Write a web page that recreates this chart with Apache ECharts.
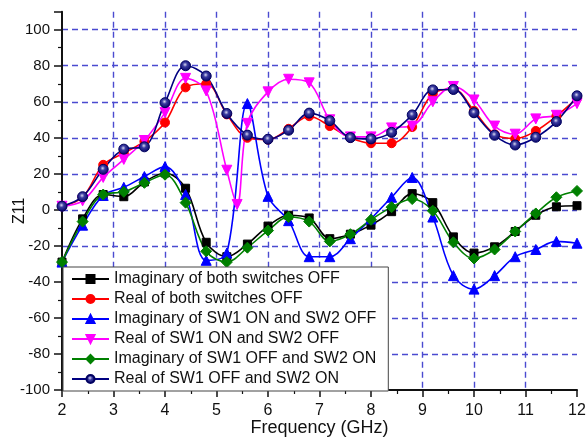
<!DOCTYPE html>
<html>
<head>
<meta charset="utf-8">
<script src="https://cdn.jsdelivr.net/npm/echarts@6/dist/echarts.min.js"></script>
<style>
  html, body { margin: 0; padding: 0; background: #fff; }
  #chart { width: 587px; height: 438px; }
</style>
</head>
<body>
<div id="chart"></div>
<script>
// Frequency sample points (GHz)
const freq = [2, 2.4, 2.8, 3.2, 3.6, 4.0, 4.4, 4.8, 5.2, 5.6, 6.0, 6.4, 6.8, 7.2, 7.6, 8.0, 8.4, 8.8, 9.2, 9.6, 10.0, 10.4, 10.8, 11.2, 11.6, 12];
// SW1 ON / SW2 OFF real part has one extra sample in the resonance dip
const freqSw1On = [2, 2.4, 2.8, 3.2, 3.6, 4.0, 4.4, 4.8, 5.2, 5.4, 5.6, 6.0, 6.4, 6.8, 7.2, 7.6, 8.0, 8.4, 8.8, 9.2, 9.6, 10.0, 10.4, 10.8, 11.2, 11.6, 12];

const imagBothOff = [-29, -5, 8.5, 7.3, 15.5, 20.5, 12, -18, -26, -19, -9, -3, -4.5, -16, -13.5, -8.5, -1, 9, 4, -15, -24, -20.5, -12, -3, 1.7, 2.3];
const realBothOff = [2, 7, 25, 31.5, 38, 48.5, 68, 70, 53, 40, 39, 45, 52, 46.5, 40, 37, 37, 46, 64.5, 67, 55, 42, 39.5, 43.8, 52, 62];
const imagSw1On = [-29, -8.5, 8, 12.5, 18.5, 24, 8.5, -28, -24, 59, 7.5, -6, -26, -26, -16, -5, 7, 18, -4, -36.5, -44, -36.5, -26, -22, -17.5, -18.5];
const realSw1On = [2, 5, 18, 28, 38.5, 54, 73, 66, 22, 3, 48, 65.5, 72.5, 70.5, 50, 40.5, 40.5, 45.5, 46.5, 60, 68.5, 61, 46.5, 42, 50.5, 52.5, 59];
const imagSw2On = [-29, -6.5, 8.5, 10, 15, 19.5, 4, -23, -29, -21, -11.5, -4, -6.5, -17.5, -13.5, -5.5, 1.5, 6, -0.5, -18, -27, -22, -12, -2, 7, 10.5];
const realSw2On = [2, 7.3, 22.5, 33.7, 35, 59.5, 80, 74.3, 53.5, 41.5, 39.2, 44.2, 53.7, 49.5, 40.1, 39.4, 43, 52.7, 66.6, 66.8, 53.9, 41.4, 36, 40.3, 49, 63.3];

const seriesNames = [
  'Imaginary of both switches OFF',
  'Real of both switches OFF',
  'Imaginary of SW1 ON and SW2 OFF',
  'Real of SW1 ON and SW2 OFF',
  'Imaginary of SW1 OFF and SW2 ON',
  'Real of SW1 OFF and SW2 ON'
];

const xTicks = [2, 3, 4, 5, 6, 7, 8, 9, 10, 11, 12];
const yTicks = [-100, -80, -60, -40, -20, 0, 20, 40, 60, 80, 100];

const pairs = (xs, ys) => xs.map((x, i) => [x, ys[i]]);

const gridBlue = '#4a4ad0';
const fontFam = '"Liberation Sans", Arial, sans-serif';

function lineSeries(name, xs, ys, color, symbol, size, extraItem) {
  return {
    name: name,
    type: 'line',
    data: pairs(xs, ys),
    smooth: 0.35,
    symbol: symbol,
    symbolSize: size,
    showAllSymbol: true,
    lineStyle: { color: color, width: 1.6 },
    itemStyle: Object.assign({ color: color, borderColor: color, borderWidth: 1 }, extraItem || {}),
    emphasis: { disabled: true },
    animation: false
  };
}

const navyBall = {
  color: {
    type: 'radial', x: 0.45, y: 0.4, r: 0.6,
    colorStops: [
      { offset: 0, color: '#d8d8f0' },
      { offset: 0.35, color: '#3a3aa0' },
      { offset: 1, color: '#000060' }
    ]
  },
  borderColor: '#000060',
  borderWidth: 1
};

const chart = echarts.init(document.getElementById('chart'), null, { renderer: 'canvas' });

chart.setOption({
  animation: false,
  backgroundColor: '#ffffff',
  grid: { left: 62, right: 10, top: 11.7, bottom: 48, containLabel: false, outerBoundsMode: 'none' },
  legend: {
    orient: 'vertical',
    left: 63,
    top: 267,
    width: 321,
    backgroundColor: '#ffffff',
    borderColor: '#444',
    borderWidth: 1,
    padding: [4, 12, 4, 8],
    itemWidth: 37,
    itemHeight: 10,
    itemGap: 4,
    selectedMode: false,
    data: seriesNames,
    textStyle: { fontFamily: fontFam, fontSize: 16, color: '#111', lineHeight: 16 }
  },
  xAxis: {
    type: 'value',
    min: xTicks[0],
    max: xTicks[xTicks.length - 1],
    interval: 1,
    name: 'Frequency (GHz)',
    nameLocation: 'middle',
    nameGap: 29,
    nameMoveOverlap: false,
    nameTextStyle: { fontFamily: fontFam, fontSize: 18, color: '#111' },
    axisLine: { show: true, onZero: false, lineStyle: { color: '#111', width: 2 } },
    axisTick: { show: true, inside: false, length: 7, lineStyle: { color: '#111', width: 1.5 } },
    minorTick: { show: true, splitNumber: 2, length: 4, lineStyle: { color: '#111', width: 1.2 } },
    axisLabel: { fontFamily: fontFam, fontSize: 16, color: '#111', margin: 13 },
    splitLine: {
      show: true, showMinLine: false, showMaxLine: false,
      lineStyle: { color: gridBlue, type: [6, 4], width: 1.4 }
    }
  },
  yAxis: {
    type: 'value',
    min: yTicks[0],
    max: 110,
    interval: 20,
    name: 'Z11',
    nameLocation: 'middle',
    nameGap: 34,
    nameMoveOverlap: false,
    nameTextStyle: { fontFamily: fontFam, fontSize: 16, color: '#111', padding: [0, 20, 0, 0] },
    axisLine: { show: true, onZero: false, lineStyle: { color: '#111', width: 2 } },
    axisTick: { show: true, inside: false, length: 8, lineStyle: { color: '#111', width: 1.5 } },
    minorTick: { show: true, splitNumber: 2, length: 4, lineStyle: { color: '#111', width: 1.2 } },
    axisLabel: {
      fontFamily: fontFam, fontSize: 15, color: '#111', margin: 12,
      formatter: v => (yTicks.indexOf(v) >= 0 ? String(v) : '')
    },
    splitLine: {
      show: true, showMinLine: false, showMaxLine: false,
      lineStyle: { color: gridBlue, type: [6, 4], width: 1.4 }
    }
  },
  series: [
    lineSeries(seriesNames[0], freq, imagBothOff, '#000000', 'rect', 8),
    lineSeries(seriesNames[1], freq, realBothOff, '#ff0000', 'circle', 9),
    lineSeries(seriesNames[2], freq, imagSw1On, '#0000ff', 'triangle', 10),
    lineSeries(seriesNames[3], freqSw1On, realSw1On, '#ff00ff', 'path://M0,0L2,0L1,1.75Z', 10),
    lineSeries(seriesNames[4], freq, imagSw2On, '#008000', 'diamond', 11),
    lineSeries(seriesNames[5], freq, realSw2On, '#000080', 'circle', 10, navyBall)
  ]
});
</script>
</body>
</html>
